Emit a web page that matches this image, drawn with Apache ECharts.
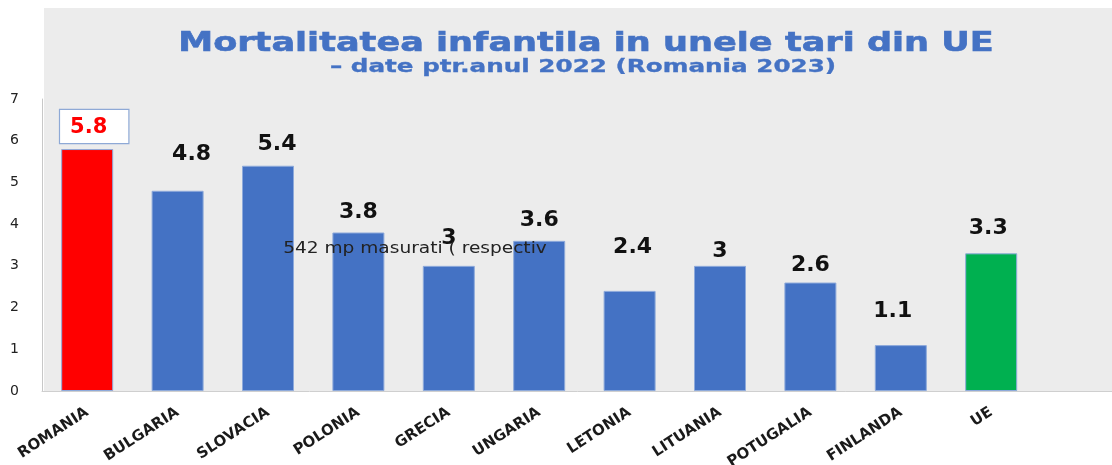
<!DOCTYPE html>
<html>
<head>
<meta charset="utf-8">
<title>Mortalitatea infantila in unele tari din UE</title>
<script src="https://cdn.jsdelivr.net/npm/echarts@6/dist/echarts.min.js"></script>
<style>
  html, body { margin: 0; padding: 0; background: #ffffff; }
  #chart { width: 1112px; height: 465px; }
</style>
</head>
<body>
<div id="chart"></div>
<script>
// Infant mortality (per 1000 live births), 2022 — Romania 2023
const categories = ['ROMANIA', 'BULGARIA', 'SLOVACIA', 'POLONIA', 'GRECIA', 'UNGARIA',
                    'LETONIA', 'LITUANIA', 'POTUGALIA', 'FINLANDA', 'UE'];
const values = [5.8, 4.8, 5.4, 3.8, 3, 3.6, 2.4, 3, 2.6, 1.1, 3.3];
const yTicks = [0, 1, 2, 3, 4, 5, 6, 7];

const titleText = 'Mortalitatea infantila in unele tari din UE';
const subtitleText = '\u2013 date ptr.anul 2022 (Romania 2023)';
const noteText = '542 mp masurati ( respectiv';

// Bar colours: Romania highlighted in red, EU average in green
const BLUE = '#4472C4', RED = '#FF0000', GREEN = '#00B050';
function barColor(name) {
  if (name === 'ROMANIA') return RED;
  if (name === 'UE') return GREEN;
  return BLUE;
}

// Hand-placed value labels: [horizontal shift, gap above the bar]
const labelPlacement = [[7, 6], [14, 25], [9, 10], [0, 9], [0, 17], [0, 10],
                        [3, 33], [0, 4], [0, 6], [-8, 23], [-3, 14]];

const seriesData = values.map((v, i) => {
  const name = categories[i];
  const [dx, gap] = labelPlacement[i];
  const label = { distance: gap, offset: [dx, 0] };
  if (name === 'ROMANIA') {
    Object.assign(label, {
      color: RED,
      fontSize: 21,
      backgroundColor: '#ffffff',
      borderColor: '#8ea9d6',
      borderWidth: 1.2,
      padding: [7, 21, 5, 10]
    });
  }
  return { value: v, name: name, itemStyle: { color: barColor(name) }, label: label };
});

const chart = echarts.init(document.getElementById('chart'), null, { renderer: 'canvas' });

// Heading text is drawn wide, so it is stretched horizontally about its centre
function heading(text, x, y, font, color, stretch, weight) {
  return {
    type: 'text',
    z: 100,
    x: x,
    y: y,
    scaleX: stretch,
    style: {
      text: text,
      fill: color,
      stroke: weight ? color : null,
      lineWidth: weight || 0,
      lineJoin: 'round',
      font: font,
      textAlign: 'center',
      textVerticalAlign: 'middle'
    }
  };
}

chart.setOption({
  backgroundColor: '#ffffff',
  animation: false,
  grid: { left: 42, top: 99, width: 1084.8, height: 292, containLabel: false, outerBoundsMode: 'none' },
  xAxis: {
    type: 'category',
    data: categories,
    max: categories.length,
    axisLine: { show: true, lineStyle: { color: '#cfcfcf', width: 1 } },
    axisTick: { show: false },
    splitLine: { show: false },
    axisLabel: {
      interval: 0,
      rotate: 33,
      margin: 20,
      color: '#1a1a1a',
      fontFamily: 'DejaVu Sans',
      fontWeight: 'bold',
      fontSize: 15,
      formatter: (v) => (categories.indexOf(v) >= 0 ? v : '')
    }
  },
  yAxis: {
    type: 'value',
    min: yTicks[0],
    max: yTicks[yTicks.length - 1],
    interval: 1,
    axisLine: { show: true, lineStyle: { color: '#c8c8c8', width: 1 } },
    axisTick: { show: false },
    splitLine: { show: false },
    axisLabel: {
      margin: 23,
      color: '#222222',
      fontFamily: 'DejaVu Sans',
      fontSize: 14
    }
  },
  series: [{
    type: 'bar',
    data: seriesData,
    barWidth: 52,
    itemStyle: { borderColor: '#8eaadb', borderWidth: 1 },
    label: {
      show: true,
      position: 'top',
      color: '#111111',
      fontFamily: 'DejaVu Sans',
      fontWeight: 'bold',
      fontSize: 22,
      formatter: (p) => String(p.value)
    },
    z: 3
  }],
  graphic: [
    {
      type: 'rect',
      z: -100,
      silent: true,
      shape: { x: 44, y: 8, width: 1068, height: 383 },
      style: { fill: '#ececec' }
    },
    heading(titleText, 586, 44, 'bold 26px "DejaVu Sans"', BLUE, 1.35, 0.6),
    heading(subtitleText, 583, 68, 'bold 17px "DejaVu Sans"', BLUE, 1.45, 0.3),
    heading(noteText, 415, 249, '16px "DejaVu Sans"', '#222222', 1.16, 0)
  ]
});
</script>
</body>
</html>
